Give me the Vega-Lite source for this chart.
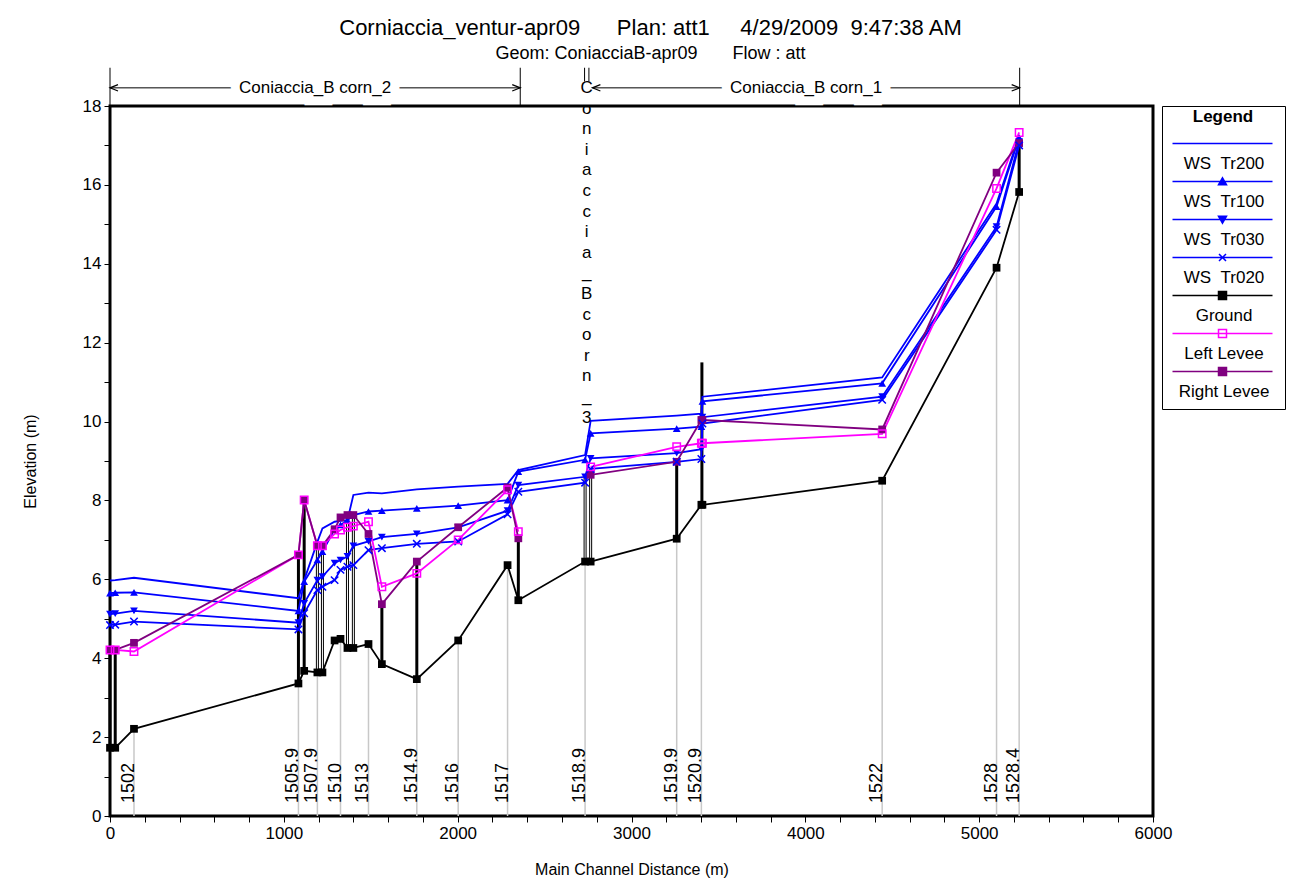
{
  "$schema": "https://vega.github.io/schema/vega-lite/v6.json",
  "width": 1043,
  "height": 710,
  "autosize": {"type": "none"},
  "padding": {"left": 110, "top": 106, "right": 137, "bottom": 74},
  "background": "white",
  "config": {
    "font": "Liberation Sans",
    "view": {"stroke": "black", "strokeWidth": 3},
    "axis": {"domain": false, "grid": false, "tickColor": "black", "tickSize": 6, "tickWidth": 1, "labelFont": "Liberation Sans", "labelFontSize": 17, "labelColor": "black", "titleFont": "Liberation Sans", "titleFontSize": 16, "titleFontWeight": "normal", "titleColor": "black", "labelOverlap": false},
    "axisX": {"tickCount": 31, "labelOverlap": false, "labelExpr": "datum.value % 1000 === 0 ? datum.label : ''"},
    "axisY": {"tickCount": 19, "labelOverlap": false, "labelExpr": "datum.value % 2 === 0 ? datum.label : ''"}
  },
  "title": {
    "text": "Corniaccia_ventur-apr09\u00a0\u00a0\u00a0\u00a0\u00a0\u00a0Plan: att1\u00a0\u00a0\u00a0\u00a0\u00a04/29/2009\u00a0\u00a09:47:38 AM",
    "subtitle": "Geom: ConiacciaB-apr09\u00a0\u00a0\u00a0\u00a0\u00a0\u00a0\u00a0Flow : att",
    "font": "Liberation Sans",
    "fontSize": 22,
    "fontWeight": "normal",
    "color": "black",
    "subtitleFont": "Liberation Sans",
    "subtitleFontSize": 18,
    "subtitleColor": "black",
    "subtitlePadding": 5,
    "anchor": "middle",
    "dx": 19,
    "offset": 3
  },
  "resolve": {"legend": {"color": "independent", "shape": "independent"}},
  "datasets": {
    "xs": [
      {"d": 0, "WS Tr200": 5.97, "WS Tr100": 5.65, "WS Tr030": 5.12, "WS Tr020": 4.84, "Ground": 1.73, "Left Levee": 4.21, "Right Levee": 4.21},
      {"d": 30, "WS Tr200": 5.98, "WS Tr100": 5.66, "WS Tr030": 5.13, "WS Tr020": 4.85, "Ground": 1.73, "Left Levee": 4.21, "Right Levee": 4.21},
      {"d": 138, "rs": "1502", "WS Tr200": 6.04, "WS Tr100": 5.67, "WS Tr030": 5.20, "WS Tr020": 4.93, "Ground": 2.21, "Left Levee": 4.17, "Right Levee": 4.39},
      {"d": 1084, "rs": "1505.9", "WS Tr200": 5.52, "WS Tr100": 5.20, "WS Tr030": 4.90, "WS Tr020": 4.73, "Ground": 3.36, "Left Levee": 6.62, "Right Levee": 6.62},
      {"d": 1117, "WS Tr200": 5.98, "WS Tr100": 5.94, "WS Tr030": 5.39, "WS Tr020": 5.14, "Ground": 3.68, "Left Levee": 8.01, "Right Levee": 8.01},
      {"d": 1193, "rs": "1507.9", "WS Tr200": 6.95, "WS Tr100": 6.49, "WS Tr030": 5.98, "WS Tr020": 5.73, "Ground": 3.64, "Left Levee": 6.85, "Right Levee": 6.85},
      {"d": 1222, "WS Tr200": 7.29, "WS Tr100": 6.70, "WS Tr030": 6.07, "WS Tr020": 5.81, "Ground": 3.64, "Left Levee": 6.85, "Right Levee": 6.85},
      {"d": 1292, "WS Tr200": 7.46, "WS Tr100": 7.27, "WS Tr030": 6.41, "WS Tr020": 5.98, "Ground": 4.45, "Left Levee": 7.15, "Right Levee": 7.27},
      {"d": 1326, "rs": "1510", "WS Tr200": 7.48, "WS Tr100": 7.38, "WS Tr030": 6.49, "WS Tr020": 6.24, "Ground": 4.49, "Left Levee": 7.25, "Right Levee": 7.57},
      {"d": 1366, "WS Tr200": 7.50, "WS Tr100": 7.50, "WS Tr030": 6.58, "WS Tr020": 6.32, "Ground": 4.26, "Left Levee": 7.32, "Right Levee": 7.63},
      {"d": 1400, "WS Tr200": 8.14, "WS Tr100": 7.63, "WS Tr030": 6.85, "WS Tr020": 6.36, "Ground": 4.26, "Left Levee": 7.35, "Right Levee": 7.63},
      {"d": 1487, "rs": "1513", "WS Tr200": 8.20, "WS Tr100": 7.72, "WS Tr030": 6.96, "WS Tr020": 6.74, "Ground": 4.36, "Left Levee": 7.46, "Right Levee": 7.15},
      {"d": 1564, "WS Tr200": 8.18, "WS Tr100": 7.74, "WS Tr030": 7.07, "WS Tr020": 6.79, "Ground": 3.85, "Left Levee": 5.81, "Right Levee": 5.37},
      {"d": 1765, "rs": "1514.9", "WS Tr200": 8.28, "WS Tr100": 7.80, "WS Tr030": 7.15, "WS Tr020": 6.90, "Ground": 3.47, "Left Levee": 6.15, "Right Levee": 6.45},
      {"d": 2003, "rs": "1516", "WS Tr200": 8.35, "WS Tr100": 7.87, "WS Tr030": 7.32, "WS Tr020": 6.96, "Ground": 4.45, "Left Levee": 7.00, "Right Levee": 7.32},
      {"d": 2287, "rs": "1517", "WS Tr200": 8.42, "WS Tr100": 8.01, "WS Tr030": 7.74, "WS Tr020": 7.65, "Ground": 6.36, "Left Levee": 8.27, "Right Levee": 8.33},
      {"d": 2349, "WS Tr200": 8.77, "WS Tr100": 8.73, "WS Tr030": 8.39, "WS Tr020": 8.22, "Ground": 5.47, "Left Levee": 7.21, "Right Levee": 7.04},
      {"d": 2733, "rs": "1518.9", "WS Tr200": 9.15, "WS Tr100": 9.03, "WS Tr030": 8.60, "WS Tr020": 8.45, "Ground": 6.45, "Left Levee": null, "Right Levee": null},
      {"d": 2765, "WS Tr200": 10.02, "WS Tr100": 9.70, "WS Tr030": 9.07, "WS Tr020": 8.80, "Ground": 6.45, "Left Levee": 8.85, "Right Levee": 8.65},
      {"d": 3260, "rs": "1519.9", "WS Tr200": 10.15, "WS Tr100": 9.82, "WS Tr030": 9.20, "WS Tr020": 8.98, "Ground": 7.03, "Left Levee": 9.36, "Right Levee": 8.98},
      {"d": 3402, "rs": "1520.9", "WS Tr200": 10.20, "WS Tr100": 9.87, "WS Tr030": 9.30, "WS Tr020": 9.05, "Ground": 7.89, "Left Levee": 9.45, "Right Levee": 10.04},
      {"d": 3408, "WS Tr200": 10.63, "WS Tr100": 10.51, "WS Tr030": 10.11, "WS Tr020": 9.95, "Ground": 7.89, "Left Levee": 9.45, "Right Levee": 10.04},
      {"d": 4442, "rs": "1522", "WS Tr200": 11.12, "WS Tr100": 10.97, "WS Tr030": 10.63, "WS Tr020": 10.55, "Ground": 8.50, "Left Levee": 9.69, "Right Levee": 9.80},
      {"d": 5100, "rs": "1528", "WS Tr200": 15.53, "WS Tr100": 15.45, "WS Tr030": 14.94, "WS Tr020": 14.86, "Ground": 13.90, "Left Levee": 15.91, "Right Levee": 16.31},
      {"d": 5230, "rs": "1528.4", "WS Tr200": 17.25, "WS Tr100": 17.20, "WS Tr030": 17.10, "WS Tr020": 17.00, "Ground": 15.82, "Left Levee": 17.33, "Right Levee": 17.06}
    ],
    "vert": [
      {"d": 0, "lo": 1.73, "hi": 4.21, "kind": "levee"},
      {"d": 30, "lo": 1.73, "hi": 4.21, "kind": "levee"},
      {"d": 1084, "lo": 3.36, "hi": 6.62, "kind": "levee"},
      {"d": 1117, "lo": 3.68, "hi": 8.01, "kind": "levee"},
      {"d": 1193, "lo": 3.64, "hi": 6.85, "kind": "bridge"},
      {"d": 1222, "lo": 3.64, "hi": 6.85, "kind": "bridge"},
      {"d": 1366, "lo": 4.26, "hi": 7.6, "kind": "bridge"},
      {"d": 1400, "lo": 4.26, "hi": 7.6, "kind": "bridge"},
      {"d": 1564, "lo": 3.85, "hi": 5.37, "kind": "levee"},
      {"d": 1765, "lo": 3.47, "hi": 6.45, "kind": "levee"},
      {"d": 2349, "lo": 5.47, "hi": 7.04, "kind": "levee"},
      {"d": 2733, "lo": 6.45, "hi": 8.6, "kind": "bridge"},
      {"d": 2765, "lo": 6.45, "hi": 8.6, "kind": "bridge"},
      {"d": 3260, "lo": 7.03, "hi": 8.98, "kind": "levee"},
      {"d": 3405, "lo": 7.89, "hi": 11.5, "kind": "levee"},
      {"d": 5230, "lo": 15.82, "hi": 17.06, "kind": "levee"}
    ],
    "reaches": [
      {"reach": "Coniaccia_B corn_2", "start": 0, "end": 2360, "kind": "reach"},
      {"reach": "Coniaccia_B corn_3", "start": 2730, "end": 2755, "kind": "bridge"},
      {"reach": "Coniaccia_B corn_1", "start": 2775, "end": 5233, "kind": "reach"}
    ]
  },
  "layer": [
    {
      "data": {"name": "xs"},
      "transform": [{"filter": "isValid(datum.rs)"}],
      "mark": {"type": "rule", "color": "#c8c8c8", "strokeWidth": 1.5},
      "encoding": {
        "x": {
          "field": "d", "type": "quantitative", "scale": {"domain": [0, 6000], "nice": false}, "title": "Main Channel Distance (m)",
          "axis": {
            "values": [0, 200, 400, 600, 800, 1000, 1200, 1400, 1600, 1800, 2000, 2200, 2400, 2600, 2800, 3000, 3200, 3400, 3600, 3800, 4000, 4200, 4400, 4600, 4800, 5000, 5200, 5400, 5600, 5800, 6000],
            "tickCount": 31,
            "labelExpr": "datum.value % 1000 === 0 ? datum.label : ''",
            "format": "d", "labelOverlap": false, "labelFlush": false, "labelPadding": 3, "titlePadding": 20
          }
        },
        "y": {
          "field": "Ground", "type": "quantitative", "scale": {"domain": [0, 18], "nice": false}, "title": "Elevation (m)",
          "axis": {
            "values": [0, 1, 2, 3, 4, 5, 6, 7, 8, 9, 10, 11, 12, 13, 14, 15, 16, 17, 18],
            "tickCount": 19,
            "labelExpr": "datum.value % 2 === 0 ? datum.label : ''",
            "labelOverlap": false, "labelFlush": false, "labelPadding": 3, "titlePadding": 44
          }
        },
        "y2": {"datum": 0}
      }
    },
    {
      "data": {"name": "vert"},
      "mark": {"type": "rule", "color": "black", "strokeWidth": 3},
      "encoding": {
        "x": {"field": "d", "type": "quantitative"},
        "y": {"field": "lo", "type": "quantitative"},
        "y2": {"field": "hi"}
      }
    },
    {
      "data": {"name": "vert"},
      "transform": [{"filter": "datum.kind == 'bridge'"}],
      "mark": {"type": "rule", "color": "white", "strokeWidth": 1},
      "encoding": {
        "x": {"field": "d", "type": "quantitative"},
        "y": {"field": "lo", "type": "quantitative"},
        "y2": {"field": "hi"}
      }
    },
    {
      "data": {"name": "xs"},
      "transform": [{"fold": ["WS Tr200", "WS Tr100", "WS Tr030", "WS Tr020", "Ground", "Left Levee", "Right Levee"], "as": ["s", "v"]}],
      "mark": {"type": "line", "strokeWidth": 1.8},
      "encoding": {
        "x": {"field": "d", "type": "quantitative", "title": "Main Channel Distance (m)"},
        "y": {"field": "v", "type": "quantitative", "title": "Elevation (m)"},
        "color": {
          "field": "s", "type": "nominal",
          "scale": {"domain": ["WS Tr200", "WS Tr100", "WS Tr030", "WS Tr020", "Ground", "Left Levee", "Right Levee"], "range": ["#0000ff", "#0000ff", "#0000ff", "#0000ff", "#000000", "#ff00ff", "#800080"]},
          "legend": {
            "title": "Legend",
            "orient": "none", "legendX": 1052, "legendY": 0, "direction": "vertical",
            "padding": 9, "strokeColor": "black", "fillColor": "white", "cornerRadius": 0,
            "titleFont": "Liberation Sans", "titleFontSize": 17, "titleFontWeight": "bold", "titleColor": "black", "titleAnchor": "middle", "titlePadding": 3,
            "labelFont": "Liberation Sans", "labelFontSize": 17, "labelColor": "black", "labelAlign": "center", "labelBaseline": "middle", "labelOffset": -7,
            "labelExpr": "replace(datum.label, 'WS ', 'WS\u00a0\u00a0')",
            "symbolType": "stroke", "symbolSize": 100, "symbolStrokeWidth": 1.5, "symbolOffset": 43, "rowPadding": 1,
            "encode": {
              "title": {"update": {"dy": {"value": -6}}},
              "symbols": {"update": {
                "shape": {"signal": "datum.value == 'WS Tr100' ? 'M-10,0L10,0M0,-0.75L0.8,0.65L-0.8,0.65Z' : datum.value == 'WS Tr030' ? 'M-10,0L10,0M0,0.75L0.8,-0.65L-0.8,-0.65Z' : datum.value == 'WS Tr020' ? 'M-10,0L10,0M-0.7,-0.7L0.7,0.7M-0.7,0.7L0.7,-0.7' : datum.value == 'WS Tr200' ? 'M-10,0L10,0' : 'M-10,0L10,0M-0.8,-0.8L0.8,-0.8L0.8,0.8L-0.8,0.8Z'"},
                "fill": {"signal": "datum.value == 'Left Levee' ? '#ffffff' : (datum.value == 'WS Tr100' || datum.value == 'WS Tr030') ? '#0000ff' : datum.value == 'Ground' ? '#000000' : datum.value == 'Right Levee' ? '#800080' : 'transparent'"},
                "strokeWidth": {"value": 1.5}
              }},
              "labels": {"update": {"dy": {"value": 20}}}
            }
          }
        }
      }
    },
    {
      "data": {"name": "xs"},
      "transform": [
        {"fold": ["WS Tr200", "WS Tr100", "WS Tr030", "WS Tr020", "Ground", "Left Levee", "Right Levee"], "as": ["s", "v"]},
        {"filter": "isValid(datum.v) && (datum.s == 'WS Tr100' || datum.s == 'WS Tr030' || datum.s == 'Ground' || datum.s == 'Right Levee')"},
        {"calculate": "datum.s", "as": "marker"}
      ],
      "mark": {"type": "point", "filled": true, "opacity": 1, "size": 60},
      "encoding": {
        "x": {"field": "d", "type": "quantitative"},
        "y": {"field": "v", "type": "quantitative"},
        "color": {"field": "s", "type": "nominal", "legend": null},
        "shape": {"field": "marker", "type": "nominal", "legend": null,
          "scale": {"domain": ["WS Tr200", "WS Tr100", "WS Tr030", "WS Tr020", "Ground", "Left Levee", "Right Levee"], "range": ["circle", "triangle-up", "triangle-down", "M-1,-1L1,1M-1,1L1,-1", "square", "square", "square"]}}
      }
    },
    {
      "data": {"name": "xs"},
      "transform": [
        {"fold": ["WS Tr200", "WS Tr100", "WS Tr030", "WS Tr020", "Ground", "Left Levee", "Right Levee"], "as": ["s", "v"]},
        {"filter": "isValid(datum.v) && (datum.s == 'WS Tr020' || datum.s == 'Left Levee')"},
        {"calculate": "datum.s", "as": "marker"}
      ],
      "mark": {"type": "point", "filled": false, "opacity": 1, "size": 55, "strokeWidth": 1.5},
      "encoding": {
        "x": {"field": "d", "type": "quantitative"},
        "y": {"field": "v", "type": "quantitative"},
        "color": {"field": "s", "type": "nominal", "legend": null},
        "shape": {"field": "marker", "type": "nominal", "legend": null}
      }
    },
    {
      "data": {"name": "xs"},
      "transform": [{"filter": "isValid(datum.rs)"}],
      "mark": {"type": "text", "angle": 270, "align": "left", "baseline": "alphabetic", "fontSize": 18, "font": "Liberation Sans", "color": "black"},
      "encoding": {
        "x": {"field": "d", "type": "quantitative"},
        "y": {"datum": 0.33, "type": "quantitative"},
        "text": {"field": "rs", "type": "nominal"}
      }
    },
    {
      "data": {"name": "reaches"},
      "transform": [{"filter": "datum.kind == 'reach'"}],
      "mark": {"type": "rule", "color": "black", "strokeWidth": 1},
      "encoding": {
        "x": {"field": "start", "type": "quantitative"},
        "x2": {"field": "end"},
        "y": {"datum": 18.46, "type": "quantitative"}
      }
    },
    {
      "data": {"name": "reaches"},
      "transform": [
        {"fold": ["start", "end"], "as": ["edge", "pos"]},
        {"filter": "!(datum.reach == 'Coniaccia_B corn_1' && datum.edge == 'start')"},
        {"calculate": "datum.kind == 'reach' ? 18 : 18.62", "as": "tickBase"}
      ],
      "mark": {"type": "rule", "color": "black", "strokeWidth": 1},
      "encoding": {
        "x": {"field": "pos", "type": "quantitative"},
        "y": {"field": "tickBase", "type": "quantitative"},
        "y2": {"datum": 18.97}
      }
    },
    {
      "data": {"name": "reaches"},
      "transform": [{"filter": "datum.kind == 'reach'"}],
      "mark": {"type": "point", "filled": false, "opacity": 1, "size": 64, "strokeWidth": 1.2, "color": "black", "shape": "M2,-0.8L0,0L2,0.8"},
      "encoding": {
        "x": {"field": "start", "type": "quantitative"},
        "y": {"datum": 18.46, "type": "quantitative"}
      }
    },
    {
      "data": {"name": "reaches"},
      "transform": [{"filter": "datum.kind == 'reach'"}],
      "mark": {"type": "point", "filled": false, "opacity": 1, "size": 64, "strokeWidth": 1.2, "color": "black", "shape": "M-2,-0.8L0,0L-2,0.8"},
      "encoding": {
        "x": {"field": "end", "type": "quantitative"},
        "y": {"datum": 18.46, "type": "quantitative"}
      }
    },
    {
      "data": {"name": "reaches"},
      "transform": [{"filter": "datum.kind == 'reach'"}, {"calculate": "(datum.start + datum.end) / 2", "as": "mid"}],
      "mark": {"type": "text", "fontSize": 17, "font": "Liberation Sans", "align": "center", "baseline": "middle", "fill": "white", "stroke": "white", "strokeWidth": 18},
      "encoding": {
        "x": {"field": "mid", "type": "quantitative"},
        "y": {"datum": 18.46, "type": "quantitative"},
        "text": {"field": "reach", "type": "nominal"}
      }
    },
    {
      "data": {"name": "reaches"},
      "transform": [{"filter": "datum.kind == 'reach'"}, {"calculate": "(datum.start + datum.end) / 2", "as": "mid"}],
      "mark": {"type": "text", "fontSize": 17, "font": "Liberation Sans", "align": "center", "baseline": "middle", "color": "black"},
      "encoding": {
        "x": {"field": "mid", "type": "quantitative"},
        "y": {"datum": 18.46, "type": "quantitative"},
        "text": {"field": "reach", "type": "nominal"}
      }
    },
    {
      "data": {"name": "reaches"},
      "transform": [{"filter": "datum.kind == 'bridge'"}, {"calculate": "(datum.start + datum.end) / 2", "as": "mid"}, {"calculate": "split(datum.reach, '')", "as": "chars"}],
      "mark": {"type": "text", "fontSize": 17, "font": "Liberation Sans", "align": "center", "baseline": "top", "lineHeight": 20.6, "color": "black"},
      "encoding": {
        "x": {"field": "mid", "type": "quantitative"},
        "y": {"datum": 18.66, "type": "quantitative"},
        "text": {"field": "chars", "type": "nominal"}
      }
    }
  ]
}
